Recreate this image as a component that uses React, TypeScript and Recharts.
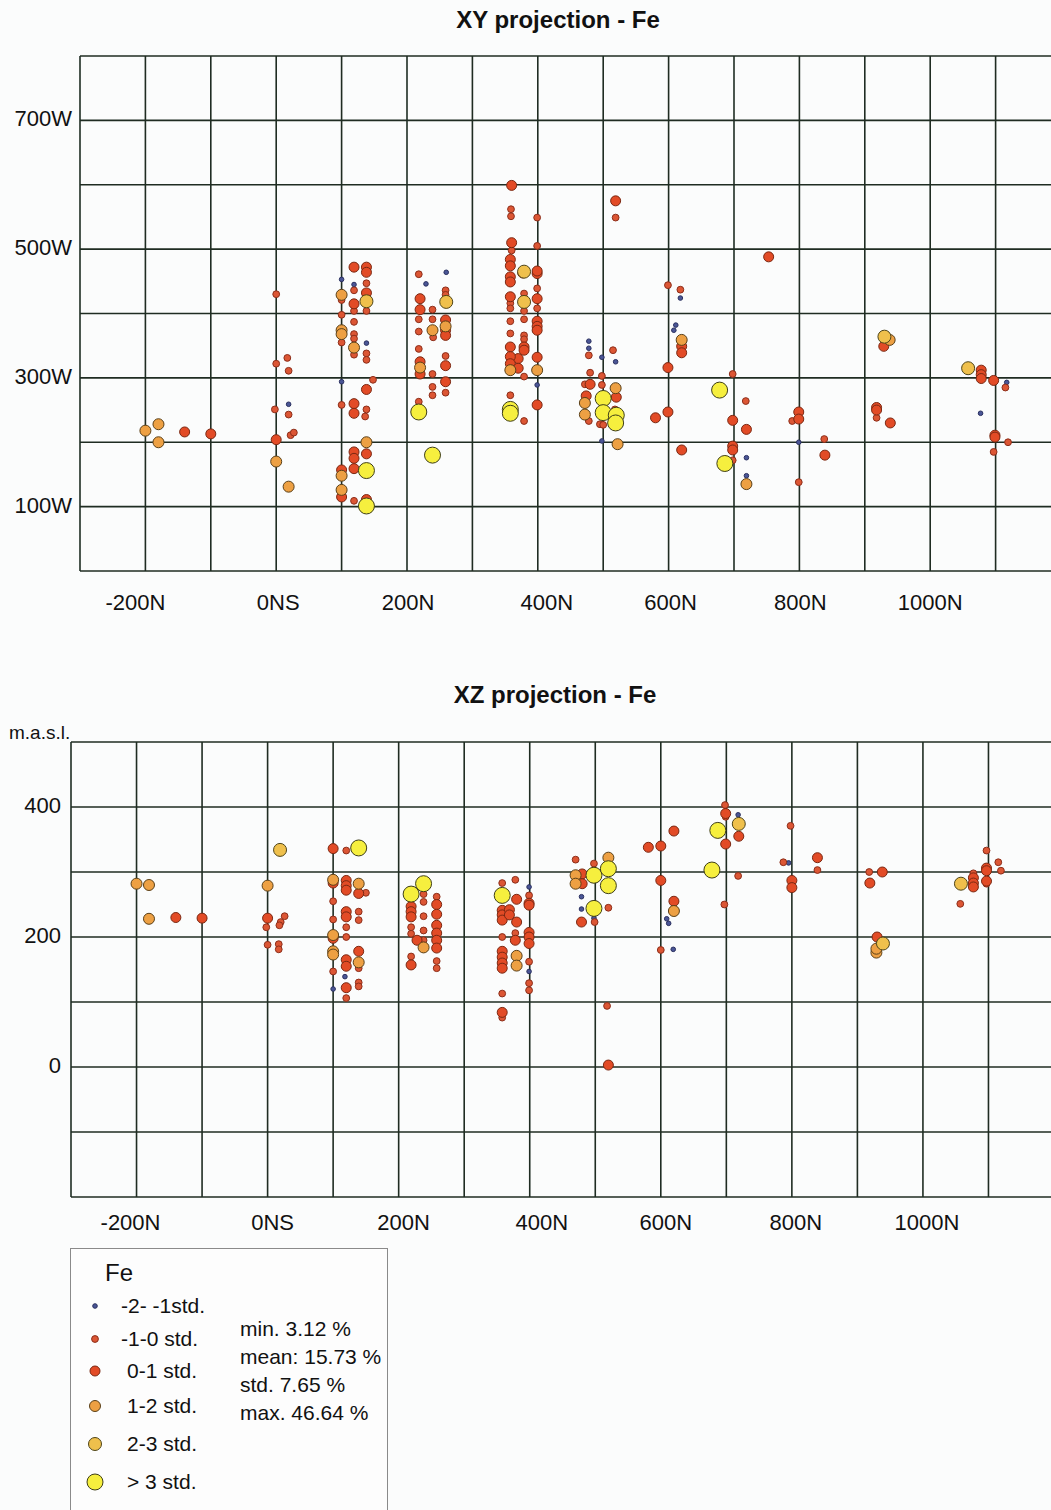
import React from "react"
import { ScatterChart, Scatter, XAxis, YAxis, CartesianGrid } from "recharts"

// std classes for Fe
const stdLabels = ["-2- -1std.", "-1-0 std.", "0-1 std.", "1-2 std.", "2-3 std.", "> 3 std."]
const statLines = ["min. 3.12 %", "mean: 15.73 %", "std. 7.65 %", "max. 46.64 %"]

const xTicks = [-300, -200, -100, 0, 100, 200, 300, 400, 500, 600, 700, 800, 900, 1000, 1100, 1200]
const xLabelValues = [-200, 0, 200, 400, 600, 800, 1000]
const xLabelTexts = ["-200N", "0NS", "200N", "400N", "600N", "800N", "1000N"]

const xyYTicks = [0, 100, 200, 300, 400, 500, 600, 700, 800]
const xyYLabelValues = [100, 300, 500, 700]
const xyYLabelTexts = ["100W", "300W", "500W", "700W"]

const xzYTicks = [-200, -100, 0, 100, 200, 300, 400, 500]
const xzYLabelValues = [0, 200, 400]
const xzYLabelTexts = ["0", "200", "400"]

// XY projection (northing, westing)
const xyM2 = [[19,259],[100,453],[119,445],[100,294],[138,354],[260,464],[229,446],[399,289],[478,357],[478,346],[498,332],[519,325],[498,202],[618,424],[611,382],[608,374],[719,176],[719,148],[799,200],[1117,293],[1077,245]]
const xyM1 = [[0,430],[17,331],[0,322],[19,311],[-2,251],[19,243],[22,211],[27,215],[100,421],[100,398],[100,355],[100,258],[119,436],[119,404],[119,387],[119,368],[119,361],[119,336],[119,109],[138,447],[138,404],[138,338],[138,328],[148,297],[138,251],[136,240],[218,461],[259,436],[259,429],[239,406],[218,391],[239,391],[218,372],[240,363],[218,345],[259,334],[239,306],[239,286],[239,273],[259,277],[218,263],[359,562],[359,551],[399,549],[519,549],[360,498],[399,505],[379,431],[399,439],[358,416],[358,408],[379,404],[399,408],[358,388],[379,391],[358,369],[379,366],[379,360],[379,302],[358,273],[379,233],[478,335],[515,343],[480,308],[498,303],[472,290],[498,289],[478,233],[495,228],[500,227],[518,251],[599,444],[618,437],[698,306],[718,264],[698,172],[789,233],[838,205],[799,138],[918,238],[1115,285],[1119,200],[1097,185]]
const xyP1 = [[-140,216],[-100,213],[0,204],[100,157],[100,115],[119,472],[119,415],[119,260],[119,245],[119,185],[119,175],[119,159],[138,472],[138,464],[138,432],[138,282],[138,182],[138,111],[220,423],[220,406],[259,390],[259,374],[259,366],[220,325],[220,306],[259,319],[259,294],[360,599],[519,575],[360,510],[358,484],[358,474],[358,457],[358,449],[399,462],[358,426],[399,423],[399,388],[399,380],[399,374],[358,348],[379,348],[370,330],[379,343],[358,333],[358,322],[370,315],[399,332],[399,258],[377,463],[399,466],[480,290],[520,270],[474,272],[620,349],[620,339],[599,316],[599,247],[580,238],[620,188],[698,234],[719,220],[698,194],[698,188],[753,488],[799,247],[799,236],[839,180],[929,349],[918,254],[918,250],[939,230],[1078,312],[1078,305],[1078,299],[1097,296],[1099,211],[1099,208]]
const xyP2 = [[-200,218],[-180,228],[-180,200],[0,170],[19,131],[100,429],[100,374],[100,368],[100,148],[100,126],[119,347],[138,200],[220,316],[259,380],[239,374],[358,312],[399,312],[519,284],[472,261],[472,243],[522,197],[620,359],[719,135],[938,359]]
const xyP3 = [[138,419],[260,418],[379,465],[379,418],[930,364],[1058,315]]
const xyP4 = [[138,156],[138,101],[218,247],[239,180],[358,251],[358,245],[500,268],[500,246],[520,242],[519,230],[678,281],[686,167]]

// XZ projection (northing, elevation m.a.s.l.)
const xzM2 = [[100,120],[118,139],[479,262],[479,243],[498,229],[399,277],[399,147],[609,228],[612,221],[619,181],[718,388],[795,314]]
const xzM1 = [[-2,215],[20,223],[26,232],[18,218],[0,188],[17,189],[17,181],[100,255],[100,227],[100,147],[120,333],[120,215],[120,200],[120,106],[150,268],[139,239],[139,226],[139,152],[139,130],[139,124],[238,266],[238,254],[258,262],[219,215],[219,205],[238,232],[238,210],[238,195],[219,170],[258,163],[258,152],[358,283],[378,288],[399,264],[358,200],[378,206],[399,162],[399,129],[399,118],[358,113],[358,76],[470,319],[498,313],[499,223],[520,245],[518,94],[600,180],[698,403],[699,385],[718,294],[697,250],[798,371],[787,315],[839,303],[918,300],[1057,251],[1077,298],[1097,333],[1115,315],[1119,302],[1097,282]]
const xzP1 = [[-140,230],[-100,229],[0,229],[100,336],[100,283],[100,198],[120,287],[120,279],[120,272],[120,239],[120,231],[120,165],[120,155],[120,122],[139,267],[139,178],[219,247],[219,239],[219,231],[258,250],[258,235],[258,218],[258,206],[258,195],[258,183],[219,157],[228,195],[358,241],[358,234],[358,226],[369,242],[369,234],[380,258],[380,223],[399,252],[399,249],[378,195],[399,207],[399,200],[399,190],[358,178],[358,169],[358,160],[358,152],[358,84],[480,297],[480,282],[479,223],[520,3],[581,338],[600,340],[620,363],[600,287],[620,255],[699,390],[719,355],[699,343],[839,322],[800,287],[800,276],[938,300],[919,283],[930,200],[1077,291],[1077,283],[1077,277],[1097,306],[1097,302],[1097,286]]
const xzP2 = [[-200,282],[-181,280],[-181,228],[0,279],[100,288],[100,203],[100,178],[100,173],[139,282],[139,161],[238,184],[380,171],[380,156],[470,295],[470,282],[520,322],[620,240],[929,176],[929,182]]
const xzP3 = [[19,334],[719,374],[939,190],[1058,282]]
const xzP4 = [[139,337],[219,266],[238,282],[358,264],[498,295],[520,305],[520,279],[498,244],[687,364],[678,303]]

const xySeries = [xyM2, xyM1, xyP1, xyP2, xyP3, xyP4]
const xzSeries = [xzM2, xzM1, xzP1, xzP2, xzP3, xzP4]

const marks = [
  { r: 2.3, fill: "#4a5696", stroke: "#2a3060" },
  { r: 3.4, fill: "#dc5634", stroke: "#8c2e1a" },
  { r: 5, fill: "#e24b26", stroke: "#7a2812" },
  { r: 5.5, fill: "#eda043", stroke: "#5a4018" },
  { r: 6.5, fill: "#efc04c", stroke: "#4e4418" },
  { r: 8, fill: "#f6ef3e", stroke: "#3e3e18" },
]

const font = "'Liberation Sans', Arial, sans-serif"
const gridColor = "#1f2c22"

// the scanned labels sit a little off their grid lines
const xyLabelShift = [-10, 2, 1, 9, 2, 1, 0]
const xzLabelShift = [-6, 5, 5, 12, 5, 4, 4]

const toPts = (arr: number[][]) => arr.map(([x, y]) => ({ x, y }))

const makeXTick = (dy: number, shift: number[]) => (props: any) => {
  const i = xLabelValues.indexOf(props.payload.value)
  if (i < 0) return <g />
  return (
    <text x={props.x + shift[i]} y={props.y + dy} textAnchor="middle" fontSize={22} fontFamily={font} fill="#111">
      {xLabelTexts[i]}
    </text>
  )
}

const makeYTick = (vals: number[], texts: string[], dx: number) => (props: any) => {
  const i = vals.indexOf(props.payload.value)
  if (i < 0) return <g />
  return (
    <text x={props.x + dx} y={props.y + 6} textAnchor="end" fontSize={22} fontFamily={font} fill="#111">
      {texts[i]}
    </text>
  )
}

function Projection(props: {
  series: number[][][]
  width: number
  height: number
  yAxisWidth: number
  yDomain: number[]
  yTicks: number[]
  yTick: any
  xTick: any
}) {
  return (
    <ScatterChart width={props.width} height={props.height} margin={{ top: 56, right: 9, left: 0, bottom: 0 }}>
      <CartesianGrid stroke={gridColor} strokeWidth={1.6} />
      <XAxis
        type="number"
        dataKey="x"
        domain={[-300, 1200]}
        ticks={xTicks}
        interval={0}
        allowDataOverflow
        axisLine={false}
        tickLine={false}
        height={69}
        tick={props.xTick}
      />
      <YAxis
        type="number"
        dataKey="y"
        domain={props.yDomain}
        ticks={props.yTicks}
        interval={0}
        allowDataOverflow
        axisLine={false}
        tickLine={false}
        width={props.yAxisWidth}
        tick={props.yTick}
      />
      {props.series.map((pts, k) => (
        <Scatter
          key={k}
          data={toPts(pts)}
          isAnimationActive={false}
          shape={(p: any) => (
            <circle cx={p.cx} cy={p.cy} r={marks[k].r} fill={marks[k].fill} stroke={marks[k].stroke} strokeWidth={1} />
          )}
        />
      ))}
    </ScatterChart>
  )
}

export default function App() {
  const title: React.CSSProperties = {
    position: "absolute",
    width: 300,
    textAlign: "center",
    fontFamily: font,
    fontWeight: "bold",
    fontSize: 24,
    lineHeight: "26px",
    color: "#111",
  }
  return (
    <div style={{ position: "absolute", left: 0, top: 0, width: 1051, height: 1510, overflow: "hidden", background: "#fbfcfc" }}>
      <div style={{ ...title, left: 408, top: 7 }}>XY projection - Fe</div>
      <div style={{ position: "absolute", left: 0, top: 0 }}>
        <Projection
          series={xySeries}
          width={1070}
          height={640}
          yAxisWidth={80}
          yDomain={[0, 800]}
          yTicks={xyYTicks}
          yTick={makeYTick(xyYLabelValues, xyYLabelTexts, 0)}
          xTick={makeXTick(31, xyLabelShift)}
        />
      </div>

      <div style={{ ...title, left: 405, top: 682 }}>XZ projection - Fe</div>
      <div style={{ position: "absolute", left: 9, top: 722, fontFamily: font, fontSize: 19, color: "#111" }}>m.a.s.l.</div>
      <div style={{ position: "absolute", left: 0, top: 686 }}>
        <Projection
          series={xzSeries}
          width={1063}
          height={580}
          yAxisWidth={71}
          yDomain={[-200, 500]}
          yTicks={xzYTicks}
          yTick={makeYTick(xzYLabelValues, xzYLabelTexts, -2)}
          xTick={makeXTick(25, xzLabelShift)}
        />
      </div>

      <svg style={{ position: "absolute", left: 0, top: 1240 }} width={400} height={270}>
        <rect x={70.5} y={8.5} width={317} height={300} fill="#fdfdfd" stroke="#8a8a8a" strokeWidth={1} />
        <text x={105} y={41} fontSize={24} fontFamily={font} fill="#111">Fe</text>
        {stdLabels.map((lab, k) => {
          const rowY = [66, 99, 131, 166, 204, 242][k]
          return (
            <g key={lab}>
              <circle cx={95} cy={rowY} r={marks[k].r} fill={marks[k].fill} stroke={marks[k].stroke} strokeWidth={1} />
              <text x={k < 2 ? 121 : 127} y={rowY + 7} fontSize={21} fontFamily={font} fill="#111">{lab}</text>
            </g>
          )
        })}
        {statLines.map((s, k) => (
          <text key={s} x={240} y={96 + k * 28} fontSize={21} fontFamily={font} fill="#111">{s}</text>
        ))}
      </svg>
    </div>
  )
}
